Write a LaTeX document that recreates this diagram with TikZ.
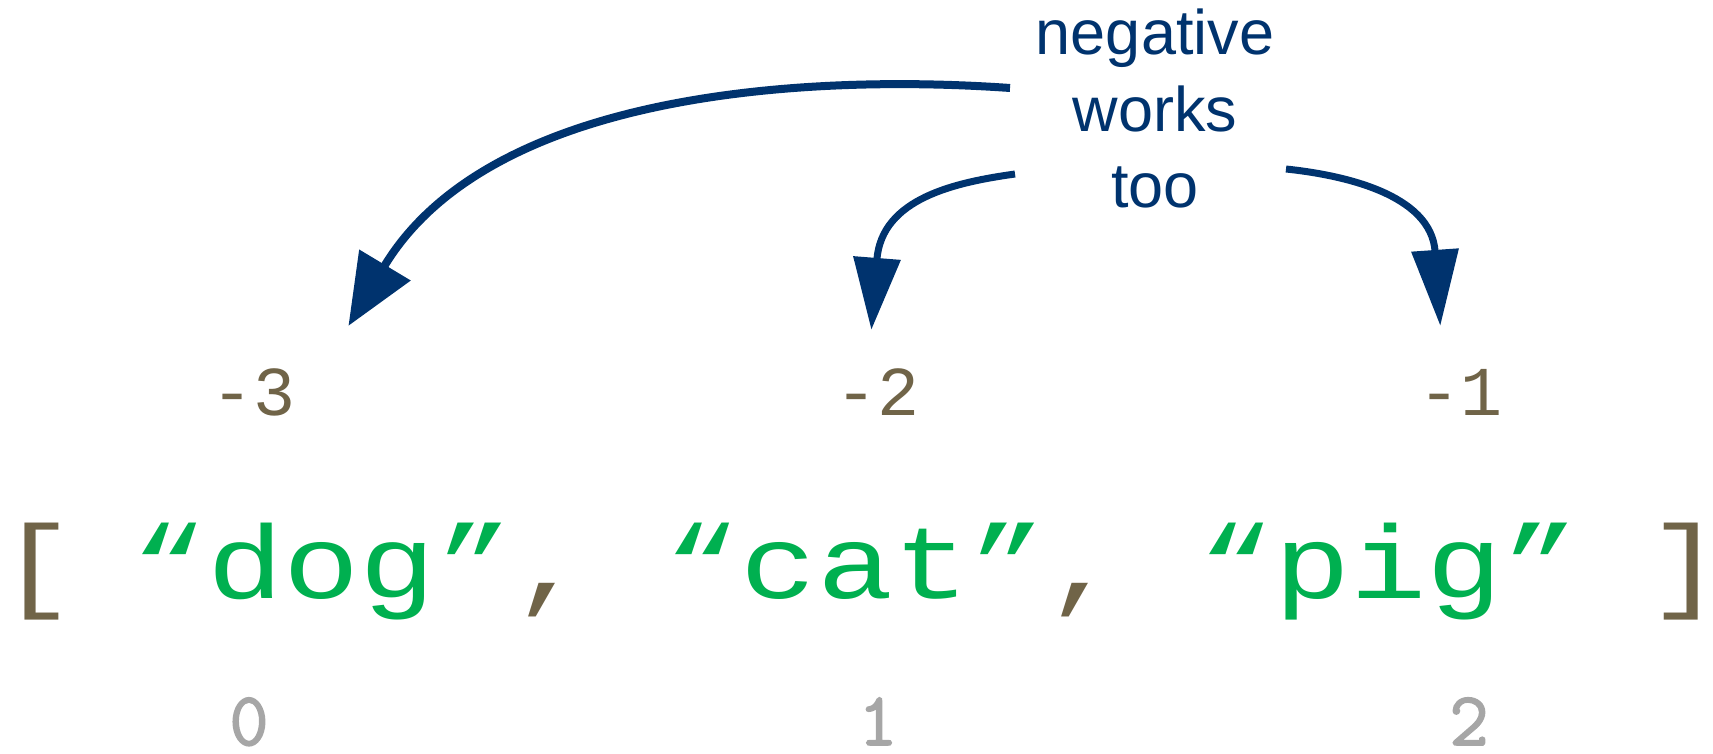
\documentclass[tikz,border=0pt]{standalone}
\usepackage{fontspec}
\usepackage{graphicx}
\usetikzlibrary{arrows.meta}
\newfontfamily\monof{Liberation Mono}
\newfontfamily\sansf{Liberation Sans}
\newfontfamily\idxf{Latin Modern Mono}[FakeBold=2]
\definecolor{navy}{RGB}{0,51,110}
\definecolor{tan}{RGB}{112,100,72}
\definecolor{strgreen}{RGB}{0,176,80}
\definecolor{idxgray}{RGB}{166,166,166}
\tikzset{
  listtext/.style={inner sep=0pt, anchor=base west, font=\monof\fontsize{63.5}{70}\selectfont},
  neglabel/.style={inner sep=0pt, anchor=base, text=tan, font=\monof\fontsize{35}{40}\selectfont},
  poslabel/.style={inner sep=0pt, anchor=base, text=idxgray, font=\idxf\bfseries\fontsize{38}{42}\selectfont},
  note/.style={inner sep=0pt, align=center, text=navy, font=\sansf\fontsize{31.5}{38.25}\selectfont},
  bigarrow/.style={draw=navy, line width=4pt, shorten >=-35.5pt, -{Triangle[length=35.5pt,width=29pt]}},
  smallarrow/.style={draw=navy, line width=3.5pt, shorten >=-36pt, -{Triangle[length=36pt,width=23pt]}},
}
\newcommand{\squash}[1]{\scalebox{1}[0.82]{#1}}
\begin{document}
\begin{tikzpicture}[x=0.5pt,y=0.5pt]
\useasboundingbox (0,0) rectangle (1713,-754);
\node[listtext, text=tan] (lb) at (-1,-598) {\squash{[}};
\node[listtext] (list) at (130.8,-598) {\squash{{\color{strgreen}“dog”}{\color{tan},} {\color{strgreen}“cat”}{\color{tan},} {\color{strgreen}“pig”}}};
\node[listtext, text=tan] (rb) at (1647,-598) {\squash{]}\kern-20pt};
\node[neglabel] (m3) at (254,-415) {-3};
\node[neglabel] (m2) at (877,-415) {-2};
\node[neglabel] (m1) at (1460,-415) {-1};
\node[poslabel] (p0) at (249,-745) {0};
\node[poslabel] (p1) at (878,-745) {1};
\node[poslabel] (p2) at (1469,-745) {2};
\node[note, anchor=base] (note) at (1155,-208) {negative\\works\\too};
\coordinate (s1) at (1010,-88);
\coordinate (b1) at (385,-265);
\coordinate (s2) at (1015,-174);
\coordinate (b2) at (877,-258);
\coordinate (s3) at (1286,-169);
\coordinate (b3) at (1435,-250);
\draw[bigarrow] (s1) to[out=176,in=59,looseness=0.8] (b1);
\draw[smallarrow] (s2) to[out=188,in=85.5,looseness=0.95] (b2);
\draw[smallarrow, shorten >=-38pt, -{Triangle[length=38pt,width=23pt]}] (s3) to[out=-6,in=94,looseness=0.85] (b3);
\end{tikzpicture}
\end{document}
